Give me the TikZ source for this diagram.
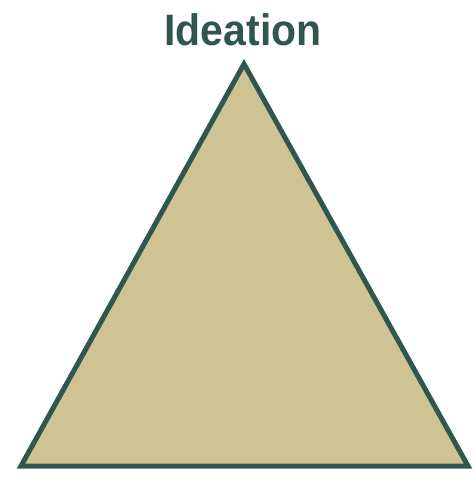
\documentclass[tikz,border=0pt]{standalone}
\usepackage{fontspec}
\setmainfont{Liberation Sans}
\definecolor{tealdark}{HTML}{2F5750}
\definecolor{sand}{HTML}{D0C393}
\tikzset{tri/.style={draw=tealdark,fill=sand,line width=5pt,line join=miter},
  lbl/.style={text=tealdark,font=\fontsize{44}{48}\selectfont\bfseries,inner sep=0pt,anchor=base,xscale=0.93}}
\begin{document}
\begin{tikzpicture}[x=1pt,y=-1pt]
\useasboundingbox (0,0) rectangle (476,483);
\coordinate (apex) at (244,64);
\coordinate (bl) at (21,466);
\coordinate (br) at (468,466);
\draw[tri] (apex) -- (bl) -- (br) -- cycle;
\node[lbl] (title) at (243,45) {Ideation};
\end{tikzpicture}
\end{document}
